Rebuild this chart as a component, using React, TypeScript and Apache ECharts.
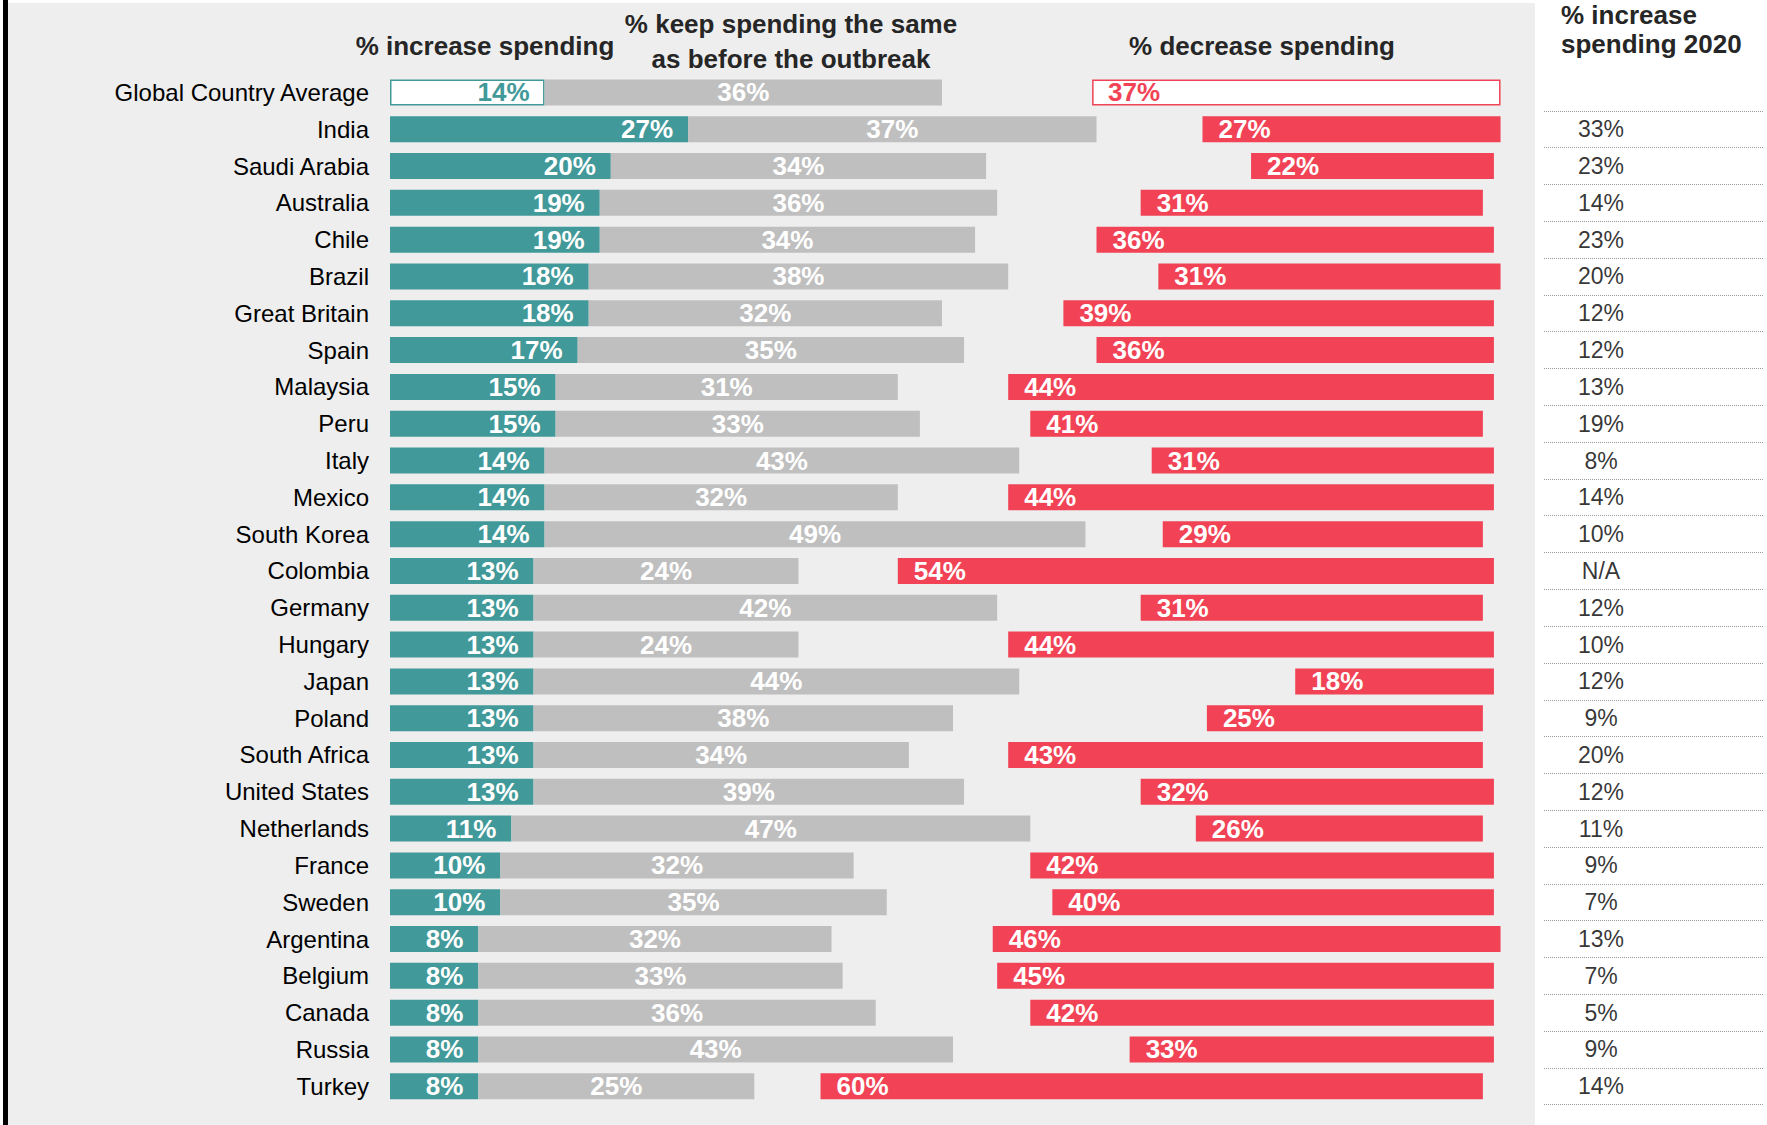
import React, { useEffect, useRef } from "react";
import * as echarts from "echarts";

const categories = [
  "Global Country Average", "India", "Saudi Arabia", "Australia", "Chile", "Brazil",
  "Great Britain", "Spain", "Malaysia", "Peru", "Italy", "Mexico", "South Korea",
  "Colombia", "Germany", "Hungary", "Japan", "Poland", "South Africa", "United States",
  "Netherlands", "France", "Sweden", "Argentina", "Belgium", "Canada", "Russia", "Turkey",
];
const increase = [14, 27, 20, 19, 19, 18, 18, 17, 15, 15, 14, 14, 14, 13, 13, 13, 13, 13, 13, 13, 11, 10, 10, 8, 8, 8, 8, 8];
const same = [36, 37, 34, 36, 34, 38, 32, 35, 31, 33, 43, 32, 49, 24, 42, 24, 44, 38, 34, 39, 47, 32, 35, 32, 33, 36, 43, 25];
const unsure = [13.6, 9.6, 24, 13, 11, 13.6, 11, 12, 10, 10, 12, 10, 7, 9, 13, 19, 25, 23, 9, 16, 15, 16, 15, 14.6, 14, 14, 16, 6];
const decrease = [37, 27, 22, 31, 36, 31, 39, 36, 44, 41, 31, 44, 29, 54, 31, 44, 18, 25, 43, 32, 26, 42, 40, 46, 45, 42, 33, 60];
const increase2020 = ["", "33%", "23%", "14%", "23%", "20%", "12%", "12%", "13%", "19%", "8%", "14%", "10%", "N/A", "12%", "10%", "12%", "9%", "20%", "12%", "11%", "9%", "7%", "13%", "7%", "5%", "9%", "14%"];

const TEAL = "#429999";
const GRAY = "#bfbfbf";
const RED = "#f14355";
const FONT = "Liberation Sans, Arial, sans-serif";
const HEAD = "#262626";

export default function App() {
  const ref = useRef<HTMLDivElement>(null);
  useEffect(() => {
    if (!ref.current) return;
    const chart = echarts.init(ref.current, null, { renderer: "svg" });
    const barLabel = { fontFamily: FONT, fontWeight: "bold" as const, fontSize: 26, color: "#fff" };
    const pct = (p: any) => `${p.value}%`;
    const tableCats = categories.slice(1);
    const option: any = {
      animation: false,
      backgroundColor: "#ffffff",
      textStyle: { fontFamily: FONT },
      graphic: [
        { type: "rect", z: 0, shape: { x: 8, y: 3, width: 1527, height: 1122 }, style: { fill: "#eeeeee" } },
        { type: "rect", z: 0, shape: { x: 3, y: 0, width: 5, height: 1125 }, style: { fill: "#000000" } },
        { type: "text", z: 5, x: 485, y: 46, style: { text: "% increase spending", fill: HEAD, font: `bold 26px ${FONT}`, textAlign: "center", textVerticalAlign: "middle" } },
        { type: "text", z: 5, x: 791, y: 24, style: { text: "% keep spending the same", fill: HEAD, font: `bold 26px ${FONT}`, textAlign: "center", textVerticalAlign: "middle" } },
        { type: "text", z: 5, x: 791, y: 59, style: { text: "as before the outbreak", fill: HEAD, font: `bold 26px ${FONT}`, textAlign: "center", textVerticalAlign: "middle" } },
        { type: "text", z: 5, x: 1262, y: 46, style: { text: "% decrease spending", fill: HEAD, font: `bold 26px ${FONT}`, textAlign: "center", textVerticalAlign: "middle" } },
        { type: "text", z: 5, x: 1561, y: 15, style: { text: "% increase", fill: HEAD, font: `bold 26px ${FONT}`, textAlign: "left", textVerticalAlign: "middle" } },
        { type: "text", z: 5, x: 1561, y: 44, style: { text: "spending 2020", fill: HEAD, font: `bold 26px ${FONT}`, textAlign: "left", textVerticalAlign: "middle" } },
      ],
      grid: [
        { left: 390, top: 74, width: 1126, height: 1030.7, containLabel: false },
        { left: 1544, top: 110.8, width: 220, height: 993.9, containLabel: false },
      ],
      xAxis: [
        { type: "value", gridIndex: 0, min: 0, max: 102, show: false },
        { type: "value", gridIndex: 1, min: 0, max: 220, show: false },
      ],
      yAxis: [
        {
          type: "category", gridIndex: 0, inverse: true, data: categories,
          axisLine: { show: false }, axisTick: { show: false }, splitLine: { show: false },
          axisLabel: { interval: 0, fontSize: 24, color: "#000", fontFamily: FONT, margin: 21 },
        },
        {
          type: "category", gridIndex: 1, inverse: true, data: tableCats,
          axisLine: { show: false }, axisTick: { show: false }, axisLabel: { show: false },
          splitLine: { show: true, interval: 0, lineStyle: { color: "#9a9a9a", type: "dotted", width: 1 } },
        },
      ],
      series: [
        {
          type: "bar", stack: "s", xAxisIndex: 0, yAxisIndex: 0, barWidth: 26,
          itemStyle: { color: TEAL },
          label: { show: true, position: "insideRight", distance: 15, formatter: pct, ...barLabel },
          data: increase.map((v, i) =>
            i === 0
              ? { value: v, itemStyle: { color: "#ffffff", borderColor: TEAL, borderWidth: 1.5 }, label: { color: TEAL } }
              : v
          ),
        },
        {
          type: "bar", stack: "s", xAxisIndex: 0, yAxisIndex: 0, barWidth: 26,
          itemStyle: { color: GRAY },
          label: { show: true, position: "inside", formatter: pct, ...barLabel },
          data: same,
        },
        {
          type: "bar", stack: "s", xAxisIndex: 0, yAxisIndex: 0, barWidth: 26,
          itemStyle: { color: "rgba(0,0,0,0)" },
          label: { show: false },
          silent: true,
          data: unsure,
        },
        {
          type: "bar", stack: "s", xAxisIndex: 0, yAxisIndex: 0, barWidth: 26,
          itemStyle: { color: RED },
          label: { show: true, position: "insideLeft", distance: 16, formatter: pct, ...barLabel },
          data: decrease.map((v, i) =>
            i === 0
              ? { value: v, itemStyle: { color: "#ffffff", borderColor: RED, borderWidth: 1.5 }, label: { color: RED } }
              : v
          ),
        },
        {
          type: "scatter", xAxisIndex: 1, yAxisIndex: 1,
          symbol: "rect", symbolSize: 1, itemStyle: { color: "rgba(0,0,0,0)" },
          label: {
            show: true, position: "inside", fontSize: 23, color: "#000", fontFamily: FONT,
            formatter: (p: any) => increase2020[p.dataIndex + 1],
          },
          data: tableCats.map((c) => [57, c]),
        },
      ],
    };
    chart.setOption(option);
    return () => chart.dispose();
  }, []);
  return (
    <div
      ref={ref}
      style={{ position: "absolute", left: 0, top: 0, width: 1767, height: 1125 }}
    />
  );
}
